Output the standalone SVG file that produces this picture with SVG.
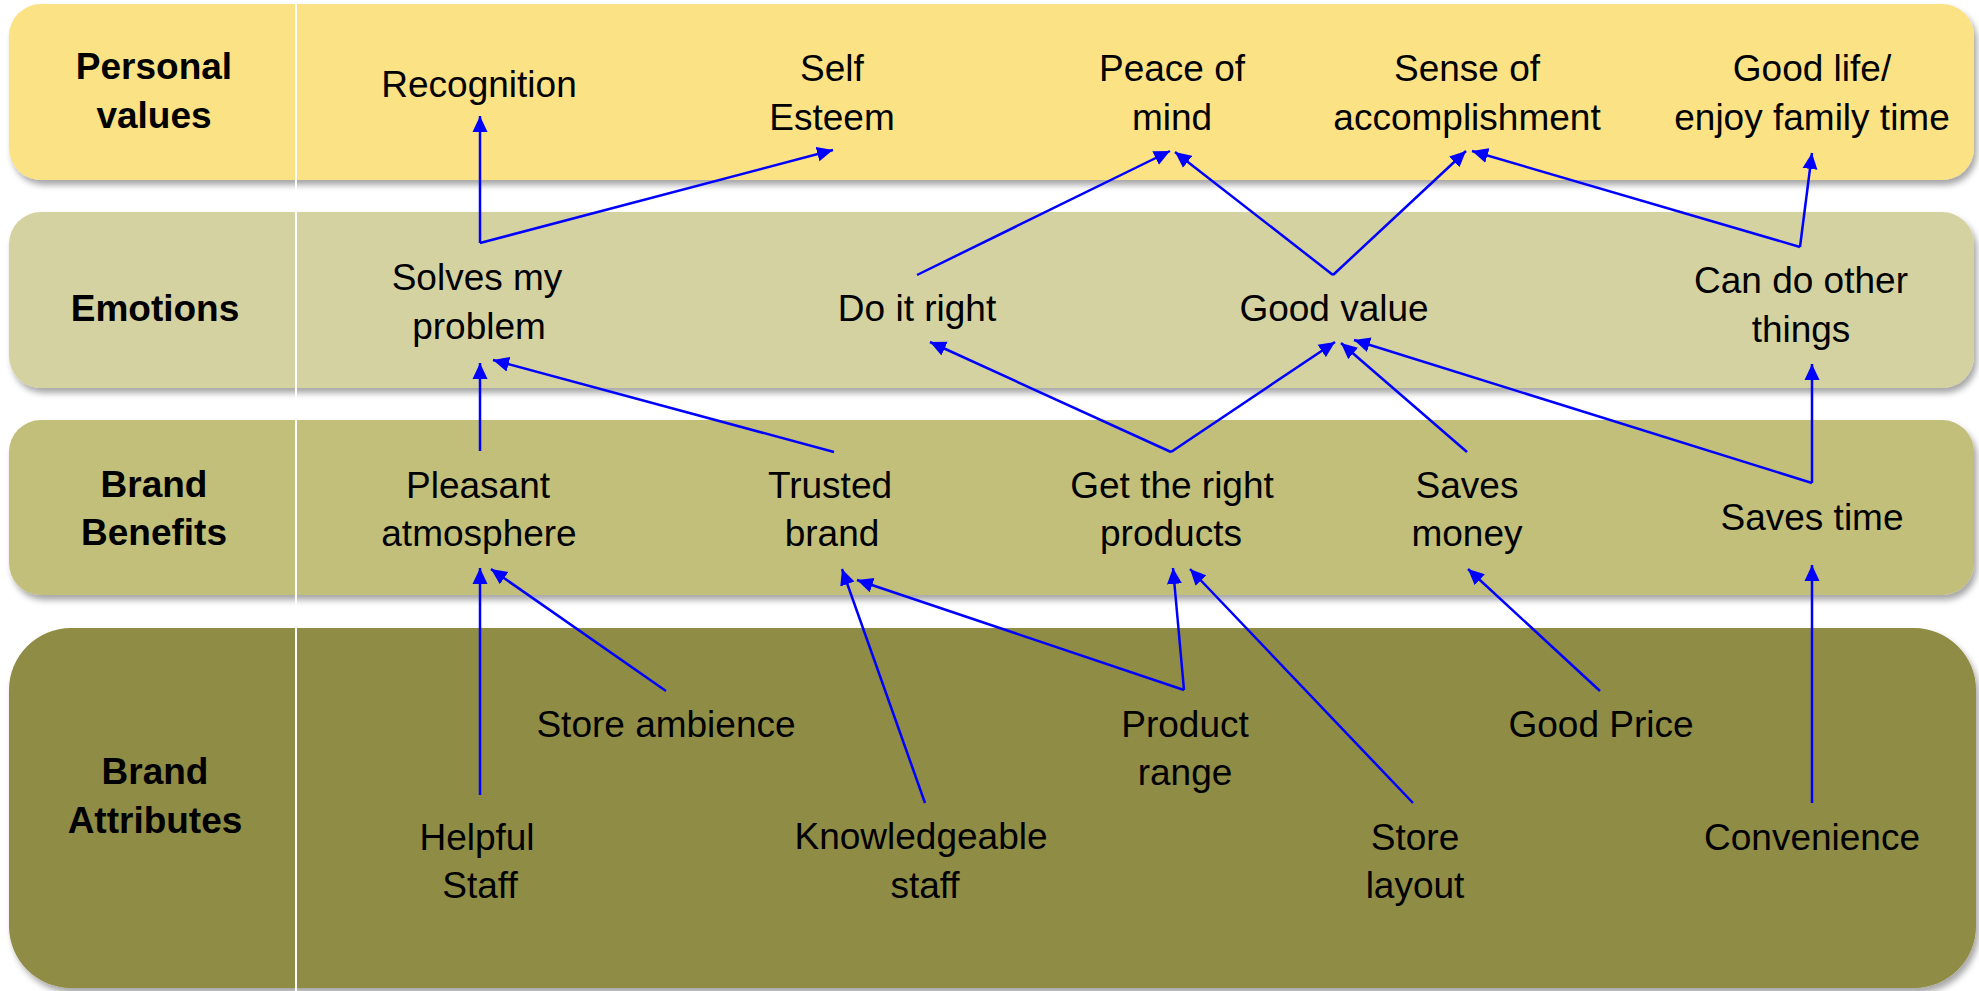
<svg xmlns="http://www.w3.org/2000/svg" width="1979" height="991" viewBox="0 0 1979 991">
  <style>
    text { font-family: "Liberation Sans", Arial, sans-serif; font-size: 37px; fill: #000; text-anchor: middle; }
    .hdr { font-weight: bold; }
    .conn line { stroke: #0000FF; stroke-width: 2.5; fill: none; marker-end: url(#ah); }
    .band { filter: url(#shadow); }
  </style>
  <defs>
    <filter id="shadow" x="-2%" y="-10%" width="104%" height="125%">
      <feDropShadow dx="3" dy="5" stdDeviation="3" flood-color="#000" flood-opacity="0.35"/>
    </filter>
    <marker id="ah" markerUnits="userSpaceOnUse" markerWidth="16" markerHeight="16" viewBox="0 0 16 16" refX="16" refY="8" orient="auto">
      <path d="M0,0.5 L16,8 L0,15.5 z" fill="#0000FF"/>
    </marker>
  </defs>

  <rect width="1979" height="991" fill="#FFFFFF"/>

  <!-- horizontal bands -->
  <g id="bands">
    <rect class="band" x="9" y="4" width="1965" height="176" rx="32" fill="#FBE285"/>
    <rect class="band" x="9" y="212" width="1965" height="176" rx="32" fill="#D5D2A1"/>
    <rect class="band" x="9" y="420" width="1965" height="175" rx="32" fill="#C1BF7A"/>
    <rect class="band" x="9" y="628" width="1967" height="360" rx="62" fill="#8F8C44"/>
    <line x1="296" y1="4" x2="296" y2="991" stroke="#FFFFFF" stroke-width="2"/>
  </g>

  <!-- row headings -->
  <g id="hdr-values"><text class="hdr" x="154" y="79">Personal</text><text class="hdr" x="154" y="128">values</text></g>
  <g id="hdr-emotions"><text class="hdr" x="155" y="321">Emotions</text></g>
  <g id="hdr-benefits"><text class="hdr" x="154" y="497">Brand</text><text class="hdr" x="154" y="545">Benefits</text></g>
  <g id="hdr-attributes"><text class="hdr" x="155" y="784">Brand</text><text class="hdr" x="155" y="833">Attributes</text></g>

  <!-- personal values -->
  <g id="recognition"><text x="479" y="97">Recognition</text></g>
  <g id="self-esteem"><text x="832" y="81">Self</text><text x="832" y="130">Esteem</text></g>
  <g id="peace-of-mind"><text x="1172" y="81">Peace of</text><text x="1172" y="130">mind</text></g>
  <g id="accomplishment"><text x="1467" y="81">Sense of</text><text x="1467" y="130">accomplishment</text></g>
  <g id="good-life"><text x="1812" y="81">Good life/</text><text x="1812" y="130">enjoy family time</text></g>

  <!-- emotions -->
  <g id="solves-problem"><text x="477" y="290">Solves my</text><text x="479" y="339">problem</text></g>
  <g id="do-it-right"><text x="917" y="321">Do it right</text></g>
  <g id="good-value"><text x="1334" y="321">Good value</text></g>
  <g id="other-things"><text x="1801" y="293">Can do other</text><text x="1801" y="342">things</text></g>

  <!-- brand benefits -->
  <g id="pleasant"><text x="478" y="498">Pleasant</text><text x="479" y="546">atmosphere</text></g>
  <g id="trusted"><text x="830" y="498">Trusted</text><text x="832" y="546">brand</text></g>
  <g id="right-products"><text x="1172" y="498">Get the right</text><text x="1171" y="546">products</text></g>
  <g id="saves-money"><text x="1467" y="498">Saves</text><text x="1467" y="546">money</text></g>
  <g id="saves-time"><text x="1812" y="530">Saves time</text></g>

  <!-- brand attributes -->
  <g id="ambience"><text x="666" y="737">Store ambience</text></g>
  <g id="product-range"><text x="1185" y="737">Product</text><text x="1185" y="785">range</text></g>
  <g id="good-price"><text x="1601" y="737">Good Price</text></g>
  <g id="helpful-staff"><text x="477" y="850">Helpful</text><text x="480" y="898">Staff</text></g>
  <g id="knowledgeable"><text x="921" y="849">Knowledgeable</text><text x="925" y="898">staff</text></g>
  <g id="store-layout"><text x="1415" y="850">Store</text><text x="1415" y="898">layout</text></g>
  <g id="convenience"><text x="1812" y="850">Convenience</text></g>

  <!-- ladder links -->
  <g id="connectors" class="conn">
    <line x1="480" y1="243" x2="480" y2="116"/>
    <line x1="480" y1="243" x2="833" y2="150"/>
    <line x1="917" y1="275" x2="1170" y2="151"/>
    <line x1="1333" y1="275" x2="1175" y2="152"/>
    <line x1="1333" y1="275" x2="1466" y2="151"/>
    <line x1="1800" y1="247" x2="1472" y2="151"/>
    <line x1="1800" y1="247" x2="1812" y2="153"/>
    <line x1="480" y1="451" x2="480" y2="363"/>
    <line x1="834" y1="452" x2="493" y2="360"/>
    <line x1="1171" y1="452" x2="930" y2="342"/>
    <line x1="1171" y1="452" x2="1335" y2="342"/>
    <line x1="1467" y1="452" x2="1341" y2="343"/>
    <line x1="1812" y1="483" x2="1354" y2="340"/>
    <line x1="1812" y1="483" x2="1812" y2="364"/>
    <line x1="480" y1="795" x2="480" y2="568"/>
    <line x1="666" y1="691" x2="491" y2="569"/>
    <line x1="925" y1="803" x2="842" y2="569"/>
    <line x1="1184" y1="690" x2="857" y2="580"/>
    <line x1="1184" y1="690" x2="1173" y2="568"/>
    <line x1="1413" y1="803" x2="1190" y2="569"/>
    <line x1="1600" y1="691" x2="1468" y2="569"/>
    <line x1="1812" y1="803" x2="1812" y2="565"/>
  </g>
</svg>
